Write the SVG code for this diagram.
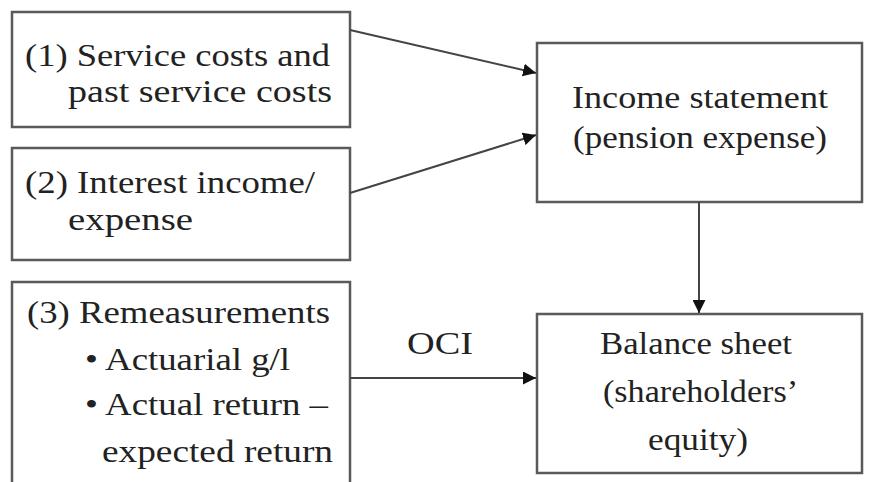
<svg xmlns="http://www.w3.org/2000/svg" width="882" height="482" viewBox="0 0 882 482">
<defs>
<style>
.box{fill:#fff;stroke:#5a5a5a;stroke-width:2.5}
.t{font-family:"Liberation Serif","DejaVu Serif",serif;font-size:32px;fill:#222}
.c{text-anchor:middle}
.ln{stroke:#444;stroke-width:2;fill:none}
</style>
<marker id="ah" viewBox="0 0 10 10" refX="10" refY="5" markerWidth="13" markerHeight="13" markerUnits="userSpaceOnUse" orient="auto"><path d="M0,0 L10,5 L0,10 Z" fill="#111"/></marker>
</defs>
<rect width="882" height="482" fill="#fff"/>
<g id="n1">
<rect class="box" x="12" y="12" width="338" height="115"/>
<text class="t" x="25" y="66" textLength="305" lengthAdjust="spacingAndGlyphs">(1) Service costs and</text>
<text class="t" x="68" y="102" textLength="264" lengthAdjust="spacingAndGlyphs">past service costs</text>
</g>
<g id="n2">
<rect class="box" x="12" y="148" width="338" height="112"/>
<text class="t" x="25" y="193" textLength="290" lengthAdjust="spacingAndGlyphs">(2) Interest income/</text>
<text class="t" x="68" y="230" textLength="125" lengthAdjust="spacingAndGlyphs">expense</text>
</g>
<g id="n3">
<rect class="box" x="12" y="282" width="338" height="210"/>
<text class="t" x="27" y="323" textLength="303" lengthAdjust="spacingAndGlyphs">(3) Remeasurements</text>
<text class="t" x="85" y="370" textLength="205" lengthAdjust="spacingAndGlyphs">• Actuarial g/l</text>
<text class="t" x="85" y="415" textLength="243" lengthAdjust="spacingAndGlyphs">• Actual return –</text>
<text class="t" x="102" y="462" textLength="231" lengthAdjust="spacingAndGlyphs">expected return</text>
</g>
<g id="n4">
<rect class="box" x="537" y="43" width="325" height="159"/>
<text class="t" x="572" y="108" textLength="256" lengthAdjust="spacingAndGlyphs">Income statement</text>
<text class="t" x="573" y="148" textLength="254" lengthAdjust="spacingAndGlyphs">(pension expense)</text>
</g>
<g id="n5">
<rect class="box" x="537" y="314" width="325" height="159"/>
<text class="t" x="600" y="354" textLength="192" lengthAdjust="spacingAndGlyphs">Balance sheet</text>
<text class="t" x="603" y="402" textLength="195" lengthAdjust="spacingAndGlyphs">(shareholders’</text>
<text class="t" x="648" y="450" textLength="100" lengthAdjust="spacingAndGlyphs">equity)</text>
</g>
<g id="connectors">
<line class="ln" x1="350" y1="30" x2="536" y2="73" marker-end="url(#ah)"/>
<line class="ln" x1="350" y1="193" x2="536" y2="135" marker-end="url(#ah)"/>
<line class="ln" x1="699" y1="202" x2="699" y2="313" marker-end="url(#ah)"/>
<line class="ln" x1="350" y1="378" x2="536" y2="378" marker-end="url(#ah)"/>
<text class="t" x="407" y="354" textLength="66" lengthAdjust="spacingAndGlyphs">OCI</text>
</g>
</svg>
